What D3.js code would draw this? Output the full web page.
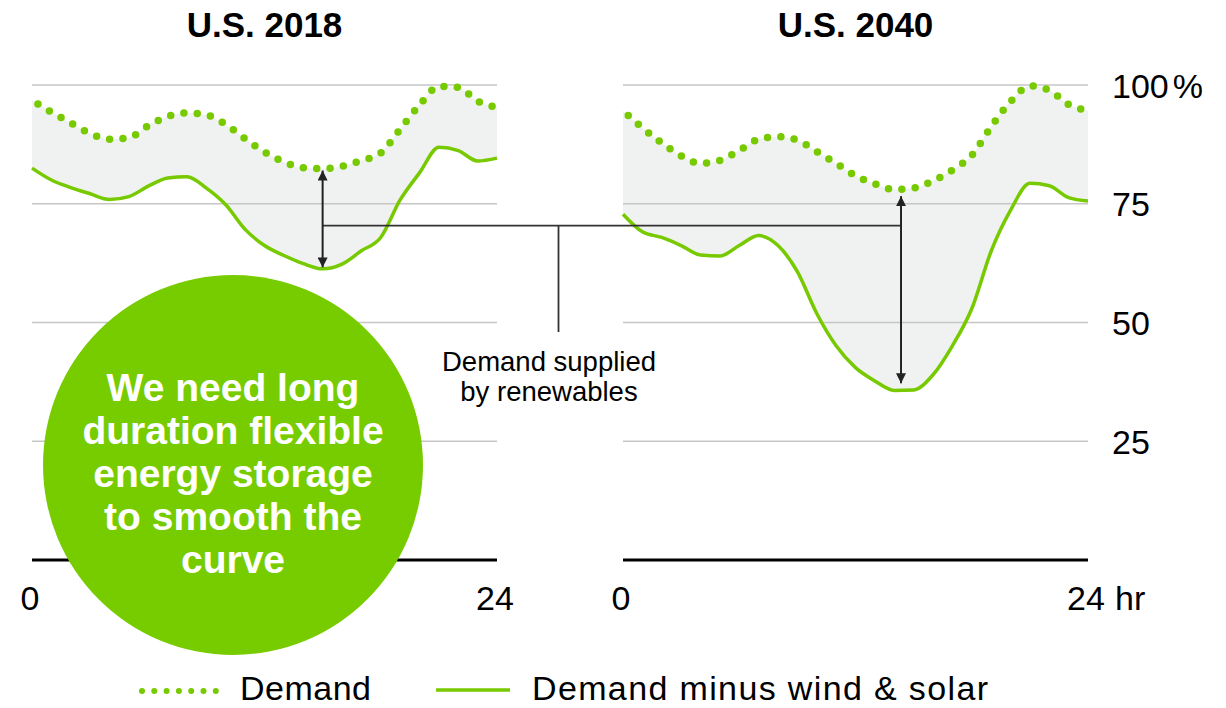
<!DOCTYPE html>
<html>
<head>
<meta charset="utf-8">
<script src="https://cdn.jsdelivr.net/npm/d3@7"></script>
<style>
  body { margin: 0; background: #fff; }
  svg { display: block; font-family: "Liberation Sans", Arial, sans-serif; }
</style>
</head>
<body>
<svg id="chart" width="1226" height="708"></svg>
<script>
// hours of the day, shared by both panels
const hours = [0, 1, 2, 3, 4, 5, 6, 7, 8, 9, 10, 11, 12, 13, 14, 15, 16, 17, 18, 19, 20, 21, 22, 23, 24];

// % of peak demand
const demand2018 = [96.8, 94.3, 92.0, 89.8, 88.6, 88.9, 91.4, 93.4, 94.1, 93.7, 91.7, 88.7, 85.9, 83.8, 82.6, 82.4, 82.9, 84.1, 85.7, 90.7, 95.8, 99.7, 99.5, 96.6, 95.3];
const net2018 = [82.5, 80.0, 78.4, 77.1, 75.9, 76.5, 78.7, 80.4, 80.7, 78.3, 74.8, 69.6, 66.2, 64.1, 62.4, 61.3, 62.3, 65.1, 67.9, 75.8, 81.5, 86.9, 86.2, 84.0, 84.6];
const demand2040 = [94.6, 91.0, 87.8, 85.1, 83.5, 84.1, 86.2, 88.6, 89.1, 88.4, 86.0, 83.5, 80.9, 79.2, 78.0, 78.3, 79.8, 82.1, 85.2, 91.2, 96.5, 99.8, 98.9, 95.9, 94.6];
const net2040 = [72.8, 69.1, 67.9, 66.2, 64.2, 64.0, 66.2, 68.3, 66.2, 60.7, 51.9, 45.1, 40.5, 37.7, 35.7, 35.8, 39.0, 45.1, 52.9, 65.0, 73.6, 79.3, 78.8, 76.3, 75.6];

const panelTitles = ["U.S. 2018", "U.S. 2040"];
const yTicks = [100, 75, 50, 25];
const yTickLabels = ["100", "75", "50", "25"];
const xTicks = [0, 24];

// arrows: hour, top value, bottom value
const arrows = [
  { panel: 0, hour: 15, from: 82.0, to: 61.6 },
  { panel: 1, hour: 14.35, from: 76.6, to: 37.2 }
];
const connectorValue = 70.4;
const calloutLines = ["Demand supplied", "by renewables"];
const bubbleLines = ["We need long", "duration flexible", "energy storage", "to smooth the", "curve"];
const legendItems = [
  { label: "Demand", dotted: true, width: 131 },
  { label: "Demand minus wind & solar", dotted: false, width: 456 }
];

const green = "#77c900";
const svg = d3.select("#chart");

const y = d3.scaleLinear().domain([0, 100]).range([560, 85]);
const xScales = [
  d3.scaleLinear().domain([0, 24]).range([32, 497]),
  d3.scaleLinear().domain([0, 24]).range([623, 1088])
];

const panels = [
  { demand: demand2018, net: net2018 },
  { demand: demand2040, net: net2040 }
];

const defs = svg.append("defs");
defs.append("marker")
  .attr("id", "arrow")
  .attr("viewBox", "0 0 10 10")
  .attr("refX", 10).attr("refY", 5)
  .attr("markerWidth", 5).attr("markerHeight", 5)
  .attr("markerUnits", "strokeWidth")
  .attr("orient", "auto-start-reverse")
  .append("path")
  .attr("d", "M0,0 L10,5 L0,10 Z")
  .attr("fill", "#222");

panels.forEach((p, i) => {
  const x = xScales[i];
  const g = svg.append("g");
  const rows = hours.map((h, k) => ({ h, d: p.demand[k], n: p.net[k] }));

  g.append("path")
    .datum(rows)
    .attr("fill", "#f0f1f1")
    .attr("d", d3.area()
      .x((d) => x(d.h))
      .y0((d) => y(d.n))
      .y1((d) => y(d.d))
      .curve(d3.curveMonotoneX));

  g.selectAll("line.grid")
    .data(yTicks)
    .join("line")
    .attr("class", "grid")
    .attr("x1", x(0)).attr("x2", x(24))
    .attr("y1", (d) => y(d)).attr("y2", (d) => y(d))
    .attr("stroke", "#c6c6c6")
    .attr("stroke-width", 1.6);

  g.append("path")
    .datum(rows)
    .attr("fill", "none")
    .attr("stroke", green)
    .attr("stroke-width", 3.5)
    .attr("d", d3.line().x((d) => x(d.h)).y((d) => y(d.n)).curve(d3.curveMonotoneX));

  g.append("path")
    .datum(rows)
    .attr("fill", "none")
    .attr("stroke", green)
    .attr("stroke-width", 7.5)
    .attr("stroke-linecap", "round")
    .attr("stroke-dasharray", "0 13.4")
    .attr("stroke-dashoffset", 6.4)
    .attr("d", d3.line().x((d) => x(d.h)).y((d) => y(d.d)).curve(d3.curveMonotoneX));

  g.append("line")
    .attr("x1", x(0)).attr("x2", x(24))
    .attr("y1", y(0)).attr("y2", y(0))
    .attr("stroke", "#000")
    .attr("stroke-width", 3);

  g.append("text")
    .attr("x", (x(0) + x(24)) / 2)
    .attr("y", 37)
    .attr("text-anchor", "middle")
    .attr("font-size", 35)
    .attr("font-weight", "bold")
    .text(panelTitles[i]);

  g.selectAll("text.xtick")
    .data(xTicks)
    .join("text")
    .attr("class", "xtick")
    .attr("x", (d) => x(d) - 2)
    .attr("y", 610)
    .attr("text-anchor", "middle")
    .attr("font-size", 34)
    .text((d) => d);
});

// y tick labels on the right
const yl = svg.selectAll("text.ytick")
  .data(yTicks)
  .join("text")
  .attr("class", "ytick")
  .attr("x", 1112)
  .attr("y", (d) => y(d) + 12.5)
  .attr("font-size", 34)
  .text((d, i) => yTickLabels[i]);
yl.filter((d) => d === 100)
  .append("tspan").attr("dx", 4).text("%");

svg.append("text")
  .attr("x", 1115).attr("y", 610)
  .attr("font-size", 34)
  .text("hr");

// connector between the two arrows
const ann = svg.append("g");
const cy = y(connectorValue);
const ax0 = xScales[0](arrows[0].hour);
const ax1 = xScales[1](arrows[1].hour);
ann.append("line")
  .attr("x1", ax0).attr("x2", ax1)
  .attr("y1", cy).attr("y2", cy)
  .attr("stroke", "#333").attr("stroke-width", 1.8);
ann.append("line")
  .attr("x1", 558.5).attr("x2", 558.5)
  .attr("y1", cy).attr("y2", 332)
  .attr("stroke", "#333").attr("stroke-width", 1.8);

ann.selectAll("line.arrow")
  .data(arrows)
  .join("line")
  .attr("class", "arrow")
  .attr("x1", (d) => xScales[d.panel](d.hour))
  .attr("x2", (d) => xScales[d.panel](d.hour))
  .attr("y1", (d) => y(d.from))
  .attr("y2", (d) => y(d.to))
  .attr("stroke", "#222")
  .attr("stroke-width", 2)
  .attr("marker-start", "url(#arrow)")
  .attr("marker-end", "url(#arrow)");

ann.selectAll("text.callout")
  .data(calloutLines)
  .join("text")
  .attr("class", "callout")
  .attr("x", 549)
  .attr("y", (d, i) => 371 + i * 30)
  .attr("text-anchor", "middle")
  .attr("font-size", 27.5)
  .text((d) => d);

// green bubble
const bubble = svg.append("g");
bubble.append("circle")
  .attr("cx", 233).attr("cy", 465).attr("r", 190)
  .attr("fill", "#77cc00");
bubble.selectAll("text")
  .data(bubbleLines)
  .join("text")
  .attr("x", 233)
  .attr("y", (d, i) => 401 + i * 43)
  .attr("text-anchor", "middle")
  .attr("font-size", 39)
  .attr("font-weight", "bold")
  .attr("fill", "#fff")
  .text((d) => d);

// legend
const legend = svg.append("g");
const lx = [142, 436];
const tx = [240, 532];
legendItems.forEach((item, i) => {
  if (item.dotted) {
    legend.append("line")
      .attr("x1", lx[i]).attr("x2", lx[i] + 74)
      .attr("y1", 691).attr("y2", 691)
      .attr("stroke", green)
      .attr("stroke-width", 6)
      .attr("stroke-linecap", "round")
      .attr("stroke-dasharray", "0 12.3");
  } else {
    legend.append("line")
      .attr("x1", lx[i]).attr("x2", lx[i] + 74)
      .attr("y1", 690).attr("y2", 690)
      .attr("stroke", green)
      .attr("stroke-width", 3.5);
  }
  legend.append("text")
    .attr("x", tx[i]).attr("y", 700)
    .attr("font-size", 34)
    .attr("textLength", item.width)
    .attr("lengthAdjust", "spacing")
    .text(item.label);
});
</script>
</body>
</html>
